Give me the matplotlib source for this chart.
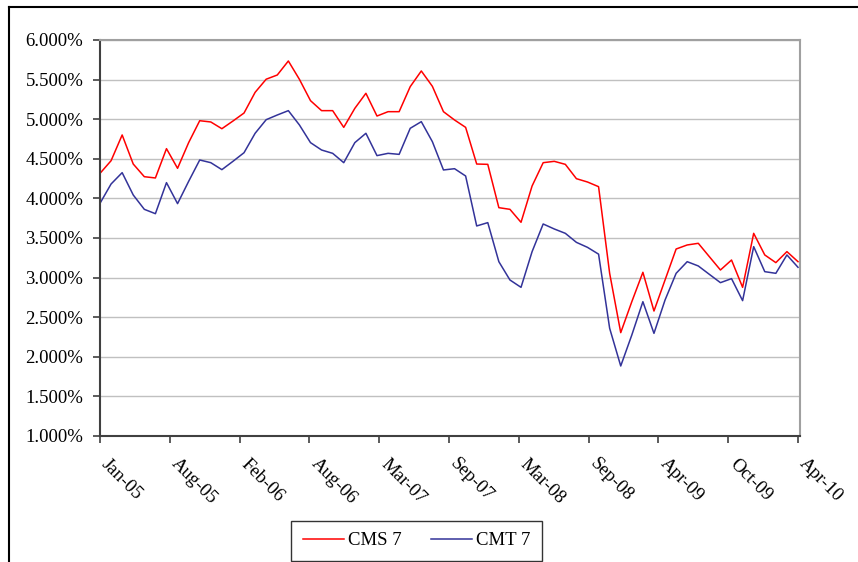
import matplotlib
matplotlib.use("Agg")
import matplotlib.pyplot as plt
from matplotlib.lines import Line2D
from matplotlib.ticker import FuncFormatter
from matplotlib.transforms import ScaledTranslation

cms7 = [4.316, 4.476, 4.801, 4.434, 4.274, 4.258, 4.628, 4.380, 4.704, 4.981,
        4.965, 4.880, 4.977, 5.078, 5.339, 5.505, 5.558, 5.735, 5.503, 5.234,
        5.108, 5.108, 4.897, 5.137, 5.327, 5.040, 5.095, 5.095, 5.411, 5.609,
        5.415, 5.095, 4.990, 4.897, 4.434, 4.430, 3.883, 3.862, 3.698, 4.157,
        4.451, 4.468, 4.430, 4.249, 4.207, 4.148, 3.054, 2.305, 2.696, 3.067,
        2.578, 2.970, 3.361, 3.412, 3.433, 3.264, 3.096, 3.222, 2.877, 3.559,
        3.286, 3.189, 3.328, 3.201]
cmt7 = [3.938, 4.182, 4.325, 4.043, 3.862, 3.807, 4.199, 3.934, 4.215, 4.485,
        4.451, 4.363, 4.468, 4.577, 4.822, 4.994, 5.053, 5.108, 4.927, 4.704,
        4.611, 4.569, 4.451, 4.704, 4.822, 4.540, 4.569, 4.556, 4.885, 4.969,
        4.716, 4.359, 4.375, 4.283, 3.652, 3.694, 3.201, 2.970, 2.877, 3.328,
        3.677, 3.614, 3.559, 3.445, 3.382, 3.296, 2.360, 1.884, 2.275, 2.696,
        2.296, 2.717, 3.054, 3.201, 3.147, 3.041, 2.936, 2.987, 2.709, 3.391,
        3.075, 3.054, 3.286, 3.130]
tick_labels = ["Jan-05", "Aug-05", "Feb-06", "Aug-06", "Mar-07", "Sep-07",
               "Mar-08", "Sep-08", "Apr-09", "Oct-09", "Apr-10"]
series_names = ["CMS 7", "CMT 7"]

W, H = 858, 562
plt.rcParams['font.family'] = ['Liberation Serif', 'DejaVu Serif']
fig = plt.figure(figsize=(W / 100, H / 100), dpi=100)

L, R, T, B = 100, 800, 40, 436
ax = fig.add_axes([L / W, 1 - B / H, (R - L) / W, (B - T) / H])

x = list(range(len(cms7)))
n = len(cms7) - 1
ax.plot(x, cms7, color="#FF0000", lw=1.1, label=series_names[0])
ax.plot(x, cmt7, color="#333399", lw=1.1, label=series_names[1])

ax.set_xlim(0, n * (R - L) / (798 - L))
ax.set_ylim(1.0, 6.0)
ax.set_yticks([1.0 + 0.5 * i for i in range(11)])
ax.yaxis.set_major_formatter(FuncFormatter(lambda v, p: f"{v:.3f}%"))
ax.grid(axis="y", color="#C0C0C0", lw=1.0)
ax.set_axisbelow(True)

ticks = [n * i / (len(tick_labels) - 1) for i in range(len(tick_labels))]
ax.set_xticks(ticks)
ax.set_xticklabels(tick_labels, rotation=-45, ha="left", va="top",
                   rotation_mode="anchor", fontsize=13.5)
ax.tick_params(axis="x", direction="out", length=5, width=1.2, color="#404040", pad=9)
ax.tick_params(axis="y", direction="out", length=5, width=1.2, color="#404040", pad=7,
               labelsize=13.5)
shift = ScaledTranslation(10 / 100, 0, fig.dpi_scale_trans)
for lab in ax.get_xticklabels():
    lab.set_transform(lab.get_transform() + shift)

for s in ["left", "bottom"]:
    ax.spines[s].set_color("#404040")
    ax.spines[s].set_linewidth(1.5)
for s in ["top", "right"]:
    ax.spines[s].set_color("#A0A0A0")
    ax.spines[s].set_linewidth(1.5)

# outer frame (cropped on right and bottom)
fig.add_artist(Line2D([9 / W, 9 / W], [0, 1 - 7 / H], color="black", lw=1.5))
fig.add_artist(Line2D([9 / W, 1], [1 - 7 / H, 1 - 7 / H], color="black", lw=1.5))

leg = fig.legend(loc="lower center", bbox_to_anchor=(416.5 / W, 1.5 / H), ncol=2,
                 frameon=True, fancybox=False, edgecolor="black", fontsize=13.5,
                 handlelength=2.2, columnspacing=1.6, borderpad=0.6,
                 handletextpad=0.2, borderaxespad=0.0)
leg.get_frame().set_linewidth(1.0)

fig.savefig("out.png", dpi=100)
